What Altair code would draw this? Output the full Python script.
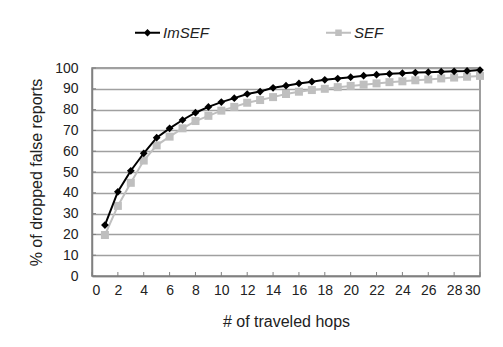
import altair as alt
import pandas as pd

hops = list(range(1, 31))
imsef = [24.5, 40.5, 50.6, 59, 66.5, 71, 75, 78.5, 81.3, 83.6, 85.5, 87.5, 88.7, 90.5, 91.5,
         92.6, 93.4, 94.3, 94.9, 95.6, 96.3, 96.8, 97.2, 97.5, 97.8, 98, 98.2, 98.4, 98.6, 99]
sef = [19.7, 33.7, 44.8, 55.5, 62.8, 67, 71, 74.5, 77, 79.5, 81.3, 83.3, 84.6, 86, 87.5,
       88.6, 89.4, 90, 90.8, 91.4, 92, 92.6, 93.2, 93.6, 94.1, 94.5, 95, 95.4, 95.8, 96.2]
series_names = ["ImSEF", "SEF"]
x_ticks = list(range(0, 31, 2))
y_ticks = list(range(0, 101, 10))

df = pd.DataFrame(
    {"hop": hops * 2, "value": imsef + sef,
     "series": ["ImSEF"] * len(hops) + ["SEF"] * len(hops)}
)

FONT = "Liberation Sans"
BLACK = "#000000"
GRAY = "#bfbfbf"
AXIS = "#808080"
TEXT = "#222222"
W, H = 388, 208

x_axis = alt.Axis(values=x_ticks, title="# of traveled hops", grid=False, ticks=False,
                  labelPadding=7, titlePadding=16, labelOverlap=False,
                  labelFont=FONT, labelFontSize=14, labelColor=TEXT,
                  titleFont=FONT, titleFontSize=16, titleFontWeight="normal", titleColor=TEXT,
                  domainColor=AXIS, domainWidth=1.5)
y_axis = alt.Axis(values=y_ticks, title="% of dropped false reports", grid=True,
                  gridColor="#a0a0a0", gridWidth=1.5,
                  ticks=False, labelPadding=14, titlePadding=10, labelOverlap=False,
                  labelFont=FONT, labelFontSize=14, labelColor=TEXT,
                  titleFont=FONT, titleFontSize=16, titleFontWeight="normal", titleColor=TEXT,
                  domainColor=AXIS, domainWidth=1.5)

xs = alt.X("hop:Q", scale=alt.Scale(domain=[0, 30], nice=False), axis=x_axis)
ys = alt.Y("value:Q", scale=alt.Scale(domain=[0, 100], nice=False), axis=y_axis)

base = alt.Chart(df)

sef_line = base.transform_filter("datum.series == 'SEF'").mark_line(
    color=GRAY, strokeWidth=2).encode(x=xs, y=ys)
sef_pts = base.transform_filter("datum.series == 'SEF'").mark_point(
    shape="square", filled=True, color=GRAY, size=64, opacity=1).encode(x=xs, y=ys)
im_line = base.transform_filter("datum.series == 'ImSEF'").mark_line(
    color=BLACK, strokeWidth=2).encode(x=xs, y=ys)
im_pts = base.transform_filter("datum.series == 'ImSEF'").mark_point(
    shape="diamond", filled=True, color=BLACK, size=60, opacity=1).encode(x=xs, y=ys)

path_im = "M-1,-0.08H1V0.08H-1Z M0,-0.3L0.3,0L0,0.3L-0.3,0Z"
path_sef = "M-1,-0.08H1V0.08H-1Z M-0.26,-0.26H0.26V0.26H-0.26Z"

legend = alt.Legend(
    title=None, orient="none", legendX=43, legendY=-48, direction="horizontal",
    columnPadding=117, symbolSize=625, symbolStrokeWidth=0, symbolOpacity=1,
    labelFont=FONT, labelFontSize=15, labelFontStyle="italic", labelColor=TEXT,
    labelOffset=3,
)
legend_layer = base.transform_filter("datum.hop < 0").mark_point(filled=True, opacity=1).encode(
    x=xs, y=ys,
    color=alt.Color("series:N", scale=alt.Scale(domain=series_names, range=[BLACK, GRAY]),
                    legend=legend),
    shape=alt.Shape("series:N", scale=alt.Scale(domain=series_names, range=[path_im, path_sef]),
                    legend=legend),
)

xt_df = pd.DataFrame({"hop": x_ticks})
yt_df = pd.DataFrame({"value": y_ticks})
x_tick_layer = alt.Chart(xt_df).mark_rule(color=AXIS, strokeWidth=1).encode(
    x=xs, y=alt.value(H), y2=alt.value(H - 4))
y_tick_layer = alt.Chart(yt_df).mark_rule(color=AXIS, strokeWidth=1).encode(
    y=ys, x=alt.value(0), x2=alt.value(4))

chart = alt.layer(
    sef_line, x_tick_layer, y_tick_layer, sef_pts, im_line, im_pts, legend_layer
).properties(
    width=W, height=H,
    autosize=alt.AutoSizeParams(type="none"),
    padding={"left": 84, "top": 60, "right": 15, "bottom": 63},
    background="white",
).configure_view(
    stroke=AXIS, strokeWidth=1.5
)

chart.save("out.html", embed_options={"renderer": "svg", "actions": False})
